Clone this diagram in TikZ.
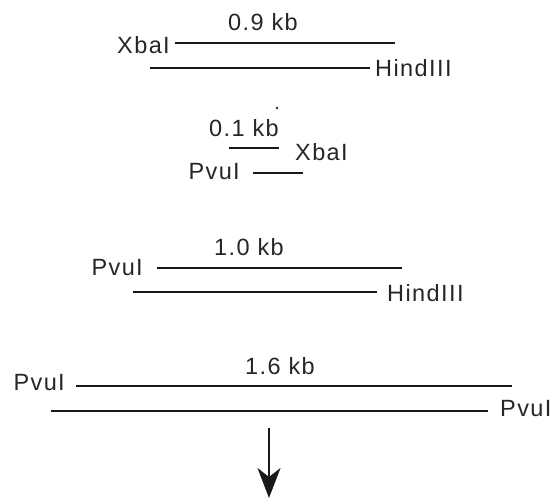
\documentclass[tikz,border=0pt]{standalone}
\usepackage{fontspec}
\setmainfont{Liberation Sans}[LetterSpace=6]
\usetikzlibrary{arrows.meta}

\tikzset{
  strand/.style={line width=2.4pt, line cap=butt, draw=black!90},
  site/.style={inner sep=0pt, text=black!85, font=\fontsize{23.5}{28}\selectfont},
  size/.style={site},
  flow/.style={line width=2.4pt, draw=black!90, fill=black!90,
    -{Stealth[length=30pt, width=23pt, inset=9pt]}}
}

\begin{document}
\begin{tikzpicture}[x=1pt, y=-1pt]
  \useasboundingbox (0,0) rectangle (555,498);

  % XbaI - HindIII fragment, 0.9 kb
  \node[size] (s09) at (263,22) {0.9 kb};
  \coordinate (a1) at (175,43);  \coordinate (a2) at (395,43);
  \coordinate (b1) at (150,68);  \coordinate (b2) at (370,68);
  \draw[strand] (a1) -- (a2);
  \draw[strand] (b1) -- (b2);
  \node[site, anchor=east] (x1) at (170,45) {XbaI};
  \node[site, anchor=west] (h1) at (375,68) {HindIII};

  % PvuI - XbaI fragment, 0.1 kb
  \node[size] (s01) at (244,128) {0.1 kb};
  \fill[black!85] (277,108) circle (1.4pt);
  \coordinate (c1) at (229,148); \coordinate (c2) at (279,148);
  \coordinate (d1) at (253,173); \coordinate (d2) at (303,173);
  \draw[strand] (c1) -- (c2);
  \draw[strand] (d1) -- (d2);
  \node[site, anchor=west] (x2) at (295,152) {XbaI};
  \node[site, anchor=east] (p2) at (240,172) {PvuI};

  % PvuI - HindIII fragment, 1.0 kb
  \node[size] (s10) at (249,247) {1.0 kb};
  \coordinate (e1) at (157,268); \coordinate (e2) at (402,268);
  \coordinate (f1) at (133,292); \coordinate (f2) at (377,292);
  \draw[strand] (e1) -- (e2);
  \draw[strand] (f1) -- (f2);
  \node[site, anchor=east] (p3) at (143,268) {PvuI};
  \node[site, anchor=west] (h3) at (387,293) {HindIII};

  % PvuI - PvuI fragment, 1.6 kb
  \node[size] (s16) at (280,366) {1.6 kb};
  \coordinate (g1) at (76,386);  \coordinate (g2) at (512,386);
  \coordinate (k1) at (51,411);  \coordinate (k2) at (488,411);
  \draw[strand] (g1) -- (g2);
  \draw[strand] (k1) -- (k2);
  \node[site, anchor=east] (p4) at (65,383) {PvuI};
  \node[site, anchor=west] (p5) at (500,409) {PvuI};

  % next step
  \coordinate (t1) at (269,428); \coordinate (t2) at (269,498);
  \draw[flow] (t1) -- (t2);
\end{tikzpicture}
\end{document}
